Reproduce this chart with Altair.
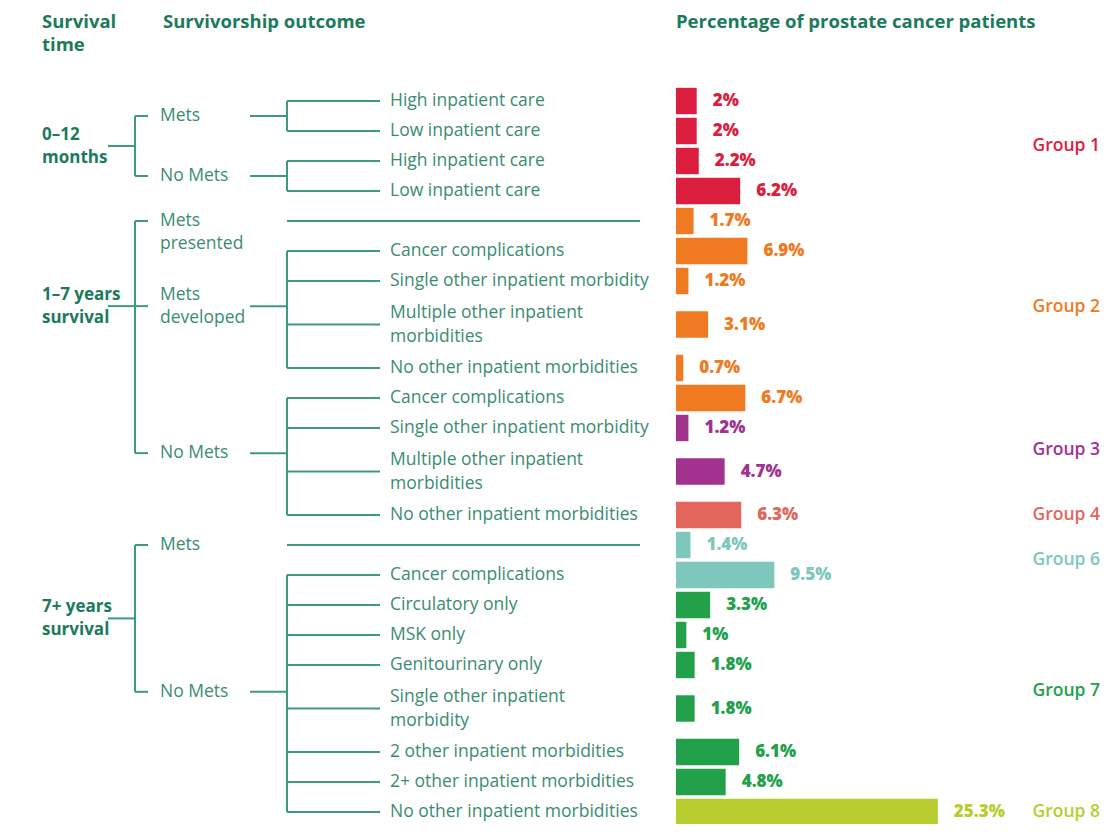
import altair as alt
import pandas as pd
import numpy as np

# ---------------- data ----------------
survival_labels = ["0–12\nmonths", "1–7 years\nsurvival", "7+ years\nsurvival"]

mid_labels = ["Mets", "No Mets", "Mets\npresented", "Mets\ndeveloped", "No Mets", "Mets", "No Mets"]
mid_parent = [0, 0, 1, 1, 1, 2, 2]

outcomes = [
    "High inpatient care", "Low inpatient care",
    "High inpatient care", "Low inpatient care",
    "",
    "Cancer complications", "Single other inpatient morbidity",
    "Multiple other inpatient\nmorbidities", "No other inpatient morbidities",
    "Cancer complications", "Single other inpatient morbidity",
    "Multiple other inpatient\nmorbidities", "No other inpatient morbidities",
    "",
    "Cancer complications", "Circulatory only", "MSK only", "Genitourinary only",
    "Single other inpatient\nmorbidity", "2 other inpatient morbidities",
    "2+ other inpatient morbidities", "No other inpatient morbidities",
]
outcome_node = [0, 0, 1, 1, 2, 3, 3, 3, 3, 4, 4, 4, 4, 5, 6, 6, 6, 6, 6, 6, 6, 6]
percent = [2, 2, 2.2, 6.2, 1.7, 6.9, 1.2, 3.1, 0.7, 6.7, 1.2, 4.7, 6.3,
           1.4, 9.5, 3.3, 1, 1.8, 1.8, 6.1, 4.8, 25.3]
groups = (["Group 1"] * 4 + ["Group 2"] * 6 + ["Group 3"] * 2 + ["Group 4"]
          + ["Group 6"] * 2 + ["Group 7"] * 6 + ["Group 8"])
group_names = ["Group 1", "Group 2", "Group 3", "Group 4", "Group 6", "Group 7", "Group 8"]
group_colors = ["#DC1E3E", "#EF7A22", "#A1338F", "#E2665C", "#7DC7BC", "#22A04A", "#B7CD2F"]

headers = ["Survival\ntime", "Survivorship outcome", "Percentage of prostate cancer patients"]

# ---------------- layout helpers ----------------
LINE = "#3E9A7E"
TXT = "#3A8C72"
HEAD = "#1C7A5C"
FONT = "Open Sans"
PX = 30.0             # pixels per row unit
TOP = 93.0            # plot y of first row centre
H = 816

# row centres in "row units" (two-line rows take more room)
h = [1 + 0.9 * (o.count("\n")) for o in outcomes]
c = [0.0]
for i in range(1, len(h)):
    c.append(c[-1] + 0.5 * (h[i - 1] + h[i]))

rows = pd.DataFrame({
    "row": range(len(outcomes)),
    "label": outcomes,
    "pct": percent,
    "pct_text": [f"{p:g}%" for p in percent],
    "group": groups,
    "node": outcome_node,
    "c": c,
})
rows["ytop"] = rows["c"] - 0.44
rows["ybot"] = rows["c"] + 0.44
rows["label_y"] = rows["c"] - rows["label"].str.count("\n") * 24 / 2 / PX

nodes = rows.groupby("node").agg(y=("c", "mean"), ymin=("c", "min"), ymax=("c", "max"),
                                 n=("c", "size")).reset_index()
nodes["label"] = mid_labels
nodes["parent"] = mid_parent
nodes["label_y"] = [y - (0 if n == 1 else l.count("\n") * 23 / 2 / PX)
                    for y, n, l in zip(nodes["y"], nodes["n"], nodes["label"])]

lvl0 = nodes.groupby("parent").agg(y=("y", "median"), ymin=("y", "min"), ymax=("y", "max")).reset_index()
lvl0["label"] = survival_labels
lvl0["label_y"] = lvl0["y"] - lvl0["label"].str.count("\n") * 23 / 2 / PX

glab = rows.groupby("group").agg(y=("c", "mean")).reset_index()

dmin = -TOP / PX
ys = alt.Scale(domain=[dmin, dmin + H / PX], reverse=True)
xs = alt.Scale(domain=[0, 10], range=[668, 771.5])
gcol = alt.Color("group:N", scale=alt.Scale(domain=group_names, range=group_colors), legend=None)


def Y(f):
    return alt.Y(f"{f}:Q", scale=ys, axis=None)


base_rows = alt.Chart(rows)

bars = base_rows.mark_bar().encode(
    x=alt.X("pct:Q", scale=xs, axis=None), x2=alt.datum(0),
    y=Y("ytop"), y2="ybot:Q",
    color=gcol,
)

pct_text = base_rows.mark_text(align="left", baseline="middle", dx=16, font=FONT,
                               fontSize=17, fontWeight=800).encode(
    x=alt.X("pct:Q", scale=xs, axis=None),
    y=Y("c"),
    text="pct_text:N",
    color=gcol,
)

leaf_text = base_rows.transform_filter("datum.label != ''").mark_text(
    align="left", baseline="middle", font=FONT, fontSize=17.5, lineBreak="\n",
    lineHeight=24, color=TXT).encode(
    x=alt.value(382), y=Y("label_y"), text="label:N")

leaf_short = base_rows.transform_filter("datum.label != ''").mark_rule(
    color=LINE, strokeWidth=2).encode(x=alt.value(279), x2=alt.value(372), y=Y("c"))
leaf_long = base_rows.transform_filter("datum.label == ''").mark_rule(
    color=LINE, strokeWidth=2).encode(x=alt.value(279), x2=alt.value(632), y=Y("c"))

base_nodes = alt.Chart(nodes)
node_vert = base_nodes.transform_filter("datum.n > 1").mark_rule(color=LINE, strokeWidth=2).encode(
    x=alt.value(279), y=Y("ymin"), y2="ymax:Q")
node_conn = base_nodes.transform_filter("datum.n > 1").mark_rule(color=LINE, strokeWidth=2).encode(
    x=alt.value(242), x2=alt.value(279), y=Y("y"))
node_tick = base_nodes.mark_rule(color=LINE, strokeWidth=2).encode(
    x=alt.value(127), x2=alt.value(140), y=Y("y"))
node_text = base_nodes.mark_text(align="left", baseline="middle", font=FONT, fontSize=17.5,
                                 lineBreak="\n", lineHeight=23, color=TXT).encode(
    x=alt.value(152), y=Y("label_y"), text="label:N")

base_l0 = alt.Chart(lvl0)
l0_vert = base_l0.mark_rule(color=LINE, strokeWidth=2).encode(x=alt.value(127), y=Y("ymin"), y2="ymax:Q")
l0_conn = base_l0.mark_rule(color=LINE, strokeWidth=2).encode(x=alt.value(100), x2=alt.value(127), y=Y("y"))
l0_text = base_l0.mark_text(align="left", baseline="middle", font=FONT, fontSize=17, fontWeight="bold",
                            lineBreak="\n", lineHeight=23, color=HEAD).encode(
    x=alt.value(34), y=Y("label_y"), text="label:N")

group_text = alt.Chart(glab).mark_text(align="right", baseline="middle", font=FONT, fontSize=17.5,
                                       fontWeight=600).encode(
    x=alt.value(1092), y=Y("y"), text="group:N", color=gcol,
)

hdr_df = pd.DataFrame({"text": headers, "k": [0, 1, 2]})
hdr_common = dict(align="left", baseline="middle", font=FONT, fontSize=18.5, fontWeight="bold",
                  lineBreak="\n", lineHeight=23, color=HEAD)
h0 = alt.Chart(hdr_df).transform_filter("datum.k == 0").mark_text(**hdr_common).encode(
    x=alt.value(34), y=alt.value(14), text="text:N")
h1 = alt.Chart(hdr_df).transform_filter("datum.k == 1").mark_text(**hdr_common).encode(
    x=alt.value(155), y=alt.value(14), text="text:N")
h2 = alt.Chart(hdr_df).transform_filter("datum.k == 2").mark_text(**hdr_common).encode(
    x=alt.value(668), y=alt.value(14), text="text:N")

chart = alt.layer(
    l0_vert, l0_conn, node_tick, node_vert, node_conn, leaf_short, leaf_long,
    bars, pct_text, leaf_text, node_text, l0_text, group_text, h0, h1, h2,
).properties(
    width=1092, height=H, padding=0,
    autosize=alt.AutoSizeParams(type="none"),
    background="white",
).configure_view(stroke=None)

chart.save("out.html", embed_options={"renderer": "svg", "actions": False})
